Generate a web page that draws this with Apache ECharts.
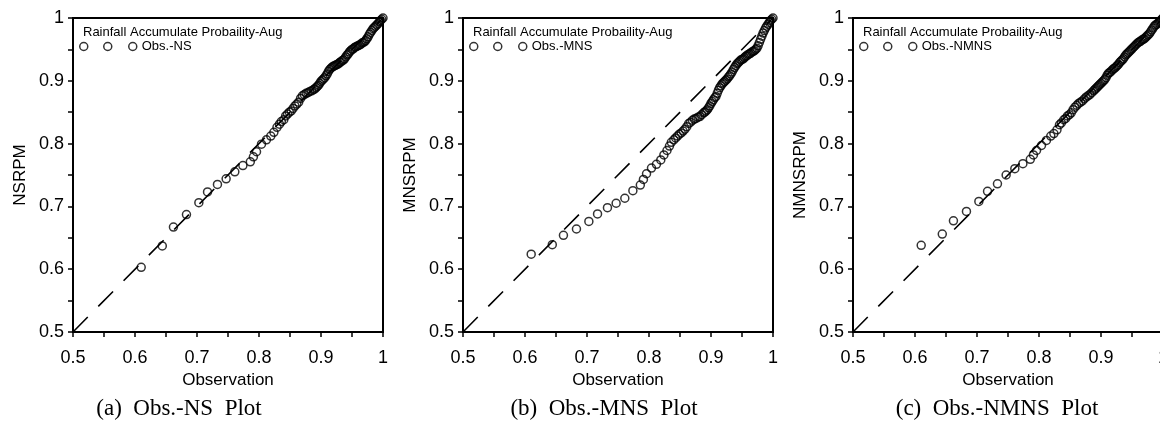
<!DOCTYPE html>
<html>
<head>
<meta charset="utf-8">
<script src="https://cdn.jsdelivr.net/npm/echarts@6/dist/echarts.min.js"></script>
<style>
  html, body { margin: 0; padding: 0; background: #fff; }
  #chart { width: 1160px; height: 425px; }
</style>
</head>
<body>
<div id="chart"></div>
<script>
// 관측 누적확률 (x축, 세 그림 공통)
const obs = [
  0.610, 0.644, 0.662, 0.683, 0.703, 0.717, 0.733, 0.747, 0.761, 0.774,
  0.786, 0.791, 0.796, 0.804, 0.812, 0.819, 0.824, 0.829, 0.833, 0.836,
  0.840, 0.843, 0.846, 0.849, 0.852, 0.855, 0.858, 0.861, 0.864, 0.867,
  0.870, 0.873, 0.876, 0.879, 0.882, 0.885, 0.888,
  0.890, 0.892, 0.894, 0.896, 0.898, 0.900, 0.902, 0.904, 0.906, 0.908,
  0.910, 0.912, 0.914, 0.916, 0.918, 0.920, 0.922, 0.924, 0.926, 0.928,
  0.930, 0.932, 0.934, 0.936, 0.938, 0.940, 0.942, 0.944, 0.946, 0.948,
  0.950, 0.952, 0.954, 0.956, 0.958, 0.960, 0.962, 0.964, 0.966, 0.968,
  0.970, 0.972, 0.974, 0.976, 0.978, 0.980, 0.982, 0.984, 0.986, 0.988,
  0.990, 0.992, 0.994, 0.996, 0.998, 1.000
]
// NSRPM
const nsVal = [
  0.603, 0.637, 0.667, 0.687, 0.706, 0.723, 0.735, 0.744, 0.755, 0.765,
  0.771, 0.779, 0.787, 0.799, 0.806, 0.812, 0.818, 0.826, 0.831, 0.835,
  0.838, 0.844, 0.847, 0.850, 0.852, 0.856, 0.860, 0.863, 0.866, 0.872,
  0.876, 0.878, 0.880, 0.881, 0.883, 0.884, 0.886,
  0.887, 0.889, 0.891, 0.893, 0.896, 0.899, 0.901, 0.903, 0.905, 0.908,
  0.911, 0.915, 0.918, 0.920, 0.922, 0.923, 0.924, 0.925, 0.926, 0.927,
  0.929, 0.930, 0.932, 0.933, 0.935, 0.938, 0.941, 0.943, 0.946, 0.948,
  0.950, 0.951, 0.953, 0.954, 0.955, 0.956, 0.957, 0.958, 0.960, 0.961,
  0.962, 0.964, 0.967, 0.970, 0.974, 0.977, 0.980, 0.983, 0.985, 0.987,
  0.989, 0.991, 0.994, 0.996, 0.998, 1.000
]
// MNSRPM
const mnsVal = [
  0.624, 0.639, 0.654, 0.664, 0.676, 0.688, 0.698, 0.705, 0.713, 0.725,
  0.734, 0.743, 0.752, 0.761, 0.767, 0.774, 0.782, 0.789, 0.796, 0.802,
  0.806, 0.809, 0.812, 0.815, 0.817, 0.820, 0.823, 0.827, 0.832, 0.834,
  0.837, 0.839, 0.840, 0.842, 0.843, 0.846, 0.849,
  0.850, 0.852, 0.854, 0.857, 0.860, 0.864, 0.867, 0.870, 0.873, 0.875,
  0.880, 0.885, 0.889, 0.892, 0.895, 0.897, 0.899, 0.901, 0.903, 0.906,
  0.908, 0.911, 0.914, 0.918, 0.921, 0.924, 0.927, 0.929, 0.931, 0.933,
  0.934, 0.935, 0.937, 0.939, 0.940, 0.942, 0.943, 0.944, 0.946, 0.947,
  0.948, 0.950, 0.952, 0.956, 0.961, 0.966, 0.971, 0.976, 0.980, 0.984,
  0.987, 0.990, 0.993, 0.996, 0.998, 1.000
]
// NMNSRPM
const nmnsVal = [
  0.638, 0.656, 0.677, 0.692, 0.708, 0.724, 0.736, 0.750, 0.760, 0.768,
  0.775, 0.782, 0.789, 0.797, 0.805, 0.812, 0.816, 0.822, 0.830, 0.833,
  0.838, 0.840, 0.844, 0.846, 0.849, 0.854, 0.858, 0.861, 0.864, 0.866,
  0.868, 0.871, 0.874, 0.876, 0.878, 0.881, 0.884,
  0.886, 0.888, 0.890, 0.892, 0.894, 0.896, 0.898, 0.900, 0.902, 0.905,
  0.909, 0.912, 0.913, 0.915, 0.917, 0.919, 0.920, 0.922, 0.924, 0.926,
  0.929, 0.931, 0.933, 0.935, 0.938, 0.941, 0.943, 0.945, 0.947, 0.949,
  0.951, 0.953, 0.955, 0.957, 0.959, 0.961, 0.962, 0.963, 0.965, 0.966,
  0.967, 0.969, 0.971, 0.973, 0.975, 0.978, 0.981, 0.984, 0.987, 0.989,
  0.990, 0.992, 0.994, 0.996, 0.998, 1.000
]
// 1:1 기준선 양 끝
const refLine = [0.5, 1.0]
const axisMin = 0.5, axisMax = 1.0, axisStep = 0.1
const legendTitle = 'Rainfall Accumulate Probaility-Aug'

const panels = [
  {name: 'Obs.-NS', yName: 'NSRPM', values: nsVal, caption: '(a)  Obs.-NS  Plot'},
  {name: 'Obs.-MNS', yName: 'MNSRPM', values: mnsVal, caption: '(b)  Obs.-MNS  Plot'},
  {name: 'Obs.-NMNS', yName: 'NMNSRPM', values: nmnsVal, caption: '(c)  Obs.-NMNS  Plot'}
]
// 각 그림의 위치
const gridLeft = [73, 463, 853]
const captionCenter = [179, 604, 997]
const gridW = 310, gridTop = 18, gridH = 314

const font = '"Liberation Sans", Arial, sans-serif'
// 범례 기호: 원 세 개
const threeCircles = 'path://M0,4a4,4 0 1,0 8,0a4,4 0 1,0 -8,0M24,4a4,4 0 1,0 8,0a4,4 0 1,0 -8,0M49,4a4,4 0 1,0 8,0a4,4 0 1,0 -8,0'

function axisCommon(){
    return {
        type: 'value', min: axisMin, max: axisMax, interval: axisStep,
        axisLine: {show: true, lineStyle: {color: '#000', width: 2}},
        axisTick: {show: true, inside: false, length: 5, lineStyle: {color: '#000', width: 1.5}},
        minorTick: {show: true, splitNumber: 2, length: 5, lineStyle: {color: '#000', width: 1.5}},
        splitLine: {show: false},
        nameTextStyle: {color: '#000', fontFamily: font, fontSize: 17},
        nameLocation: 'middle'
    }
}

let grid = [], xAxis = [], yAxis = [], series = [], title = [], legend = [], graphic = []
panels.forEach((p, i) => {
    grid.push({
        left: gridLeft[i], top: gridTop, width: gridW, height: gridH,
        outerBoundsMode: 'none',
        show: true, borderColor: '#000', borderWidth: 2, backgroundColor: 'transparent'
    })
    xAxis.push(Object.assign(axisCommon(), {
        gridIndex: i, name: 'Observation', nameGap: 36,
        axisLabel: {color: '#000', fontFamily: font, fontSize: 18, margin: 17}
    }))
    yAxis.push(Object.assign(axisCommon(), {
        gridIndex: i, name: p.yName, nameGap: 44,
        axisLabel: {color: '#000', fontFamily: font, fontSize: 18, margin: 9}
    }))
    series.push({
        type: 'line', xAxisIndex: i, yAxisIndex: i, silent: true,
        data: refLine.map(v => [v, v]), symbol: 'none',
        lineStyle: {color: '#000', width: 1.6, type: [21, 15]}, z: 2
    })
    series.push({
        type: 'scatter', name: p.name, xAxisIndex: i, yAxisIndex: i,
        data: obs.map((x, k) => [x, p.values[k]]),
        symbol: 'circle', symbolSize: 8,
        itemStyle: {color: 'transparent', borderColor: '#000', borderWidth: 1.5}, z: 3
    })
    title.push({
        text: legendTitle, left: gridLeft[i] + 5, top: 21,
        textStyle: {fontFamily: font, fontSize: 13, fontWeight: 'normal', color: '#000'}
    })
    legend.push({
        data: [{name: p.name, icon: threeCircles}],
        left: gridLeft[i] + 1, top: 35, itemWidth: 57, itemHeight: 8, itemGap: 5,
        selectedMode: false,
        itemStyle: {color: 'transparent', borderColor: '#000', borderWidth: 1.5},
        textStyle: {fontFamily: font, fontSize: 13, color: '#000'}
    })
    graphic.push({
        type: 'text', x: captionCenter[i], y: 397,
        style: {text: p.caption, font: '23px "Liberation Serif"', fill: '#000', textAlign: 'center'}
    })
})

let chart = echarts.init(document.getElementById('chart'), null, {renderer: 'canvas'})
chart.setOption({
    animation: false,
    backgroundColor: '#fff',
    grid, xAxis, yAxis, series, title, legend, graphic
})
</script>
</body>
</html>
